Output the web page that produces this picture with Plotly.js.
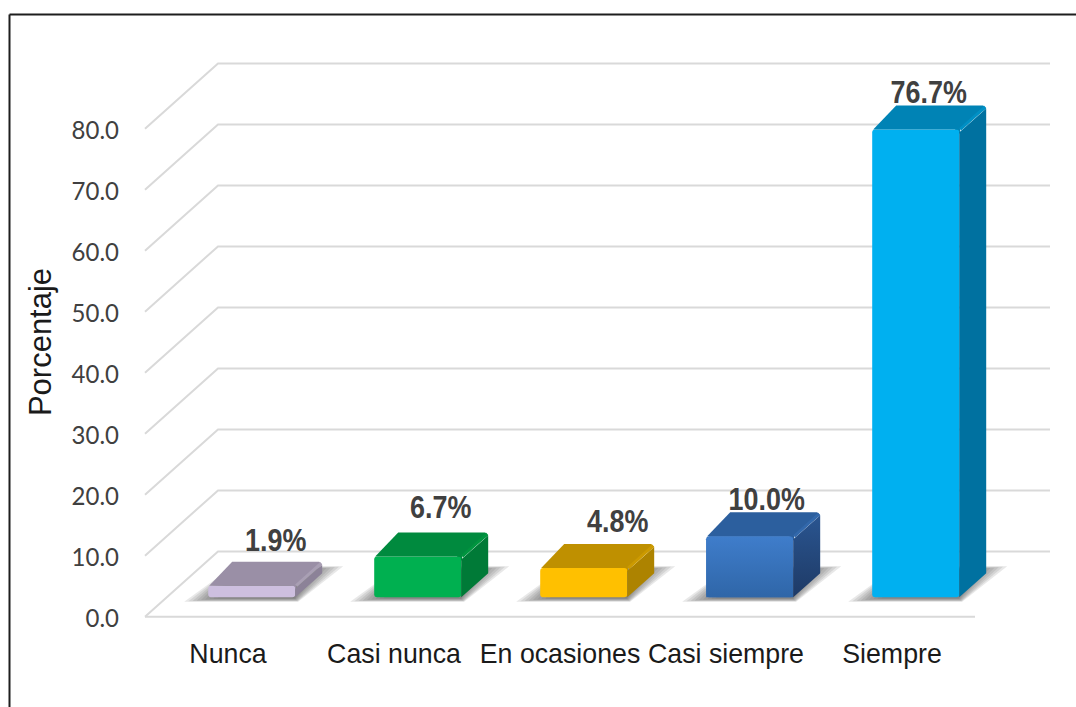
<!DOCTYPE html>
<html>
<head>
<meta charset="utf-8">
<script src="https://cdn.plot.ly/plotly-3.0.1.min.js"></script>
<style>html,body{margin:0;padding:0;background:#fff}</style>
</head>
<body>
<div id="chart" style="width:1076px;height:707px"></div>
<script>
const categories = ["Nunca", "Casi nunca", "En ocasiones", "Casi siempre", "Siempre"];
const values = [1.9, 6.7, 4.8, 10.0, 76.7];
const valueLabels = ["1.9%", "6.7%", "4.8%", "10.0%", "76.7%"];
const yTicks = [0, 10, 20, 30, 40, 50, 60, 70, 80];

const frontColors = ["#CDBFDF", "#00B050", "#FFC000", "#3A76C0", "#00B0F0"];
const topColors = ["#9A8FA6", "#008A3E", "#BF9000", "#2C5F9E", "#0083B5"];
const edgeColors = ["#A99FB4", "#00953F", "#CC9A00", "#3268AB", "#0090C5"];
const sideColors = ["#8C8298", "#007A37", "#AD8300", "#244A80", "#0071A0"];
// bars whose front and side faces fade from bottom to top
const fadeFront = {3: ["#2F66A8", "#3F7DCB"]};
const fadeSide = {3: ["#1E3A66", "#2A5590"]};

// scale of the axes, pixels per data unit
const W = 1076, H = 707;
const L = 144, R = 1052, T = 62, B = 622;
const pxX = 166, pxY = 6.1;
const zeroPx = 616.7, firstCatPx = 228;
const xRange = [(L - firstCatPx) / pxX, (R - firstCatPx) / pxX];
const yRange = [(zeroPx - B) / pxY, (zeroPx - T) / pxY];

// oblique projection, in pixels
const wallDX = 74, wallDY = 65.3;
const liftDX = 23.7, liftDY = 19.4;
const barDX = 27, barDY = 24, barW = 87, chamfer = 3;
const labelShiftX = [24, 23, 34, 17, 13];
const labelShiftY = [43, 46, 44, 34, 34];

const dx = p => p / pxX;
const dy = p => p / pxY;
const xEnd = xRange[1] - dx(2);
const xFrontEnd = 4.5;

const shapes = [];
const lineStyle = {color: "#D9D9D9", width: 2};
yTicks.forEach(v => {
  shapes.push({type: "path", layer: "below", xref: "x", yref: "y", line: lineStyle,
    path: `M ${xRange[0] + dx(1)},${v} L ${xRange[0] + dx(wallDX)},${v + dy(wallDY)} L ${xEnd},${v + dy(wallDY)}`});
});
shapes.push({type: "path", layer: "below", xref: "x", yref: "y", line: lineStyle,
  path: `M ${xRange[0] + dx(1)},0 L ${xFrontEnd},0`});

// floor shadows, soft edge built from stacked layers
const shadowLayers = 9;
values.forEach((v, i) => {
  const x0 = i + dx(liftDX) - dx(barW / 2), x1 = x0 + dx(barW), yb = dy(liftDY);
  for (let k = 0; k < shadowLayers; k++) {
    const s = k * 4.2, e = k * 0.45;
    shapes.push({type: "path", layer: "below", xref: "x", yref: "y",
      fillcolor: "rgba(90,90,90,0.14)", line: {width: 0},
      path: `M ${x0 + dx(-24 + s)},${yb - dy(4.5 - e)} L ${x1 + dx(3 - e)},${yb - dy(4.5 - e)} ` +
            `L ${x1 + dx(48 - s)},${yb + dy(31 - e)} L ${x0 + dx(25)},${yb + dy(31 - e)} Z`});
  }
  // fills the rounded front corner next to the side face
  const yt = yb + v;
  shapes.push({type: "rect", layer: "below", xref: "x", yref: "y", x0: x1 - dx(4), x1: x1 + dx(1),
    y0: yt - dy(4), y1: yt + dy(1), fillcolor: topColors[i], line: {width: 0}});
});

// picture frame (top and left edges)
const px2x = p => (p - L) / (R - L), px2y = p => 1 - (p - T) / (B - T);
shapes.push({type: "line", xref: "paper", yref: "paper", x0: px2x(9.5), x1: px2x(W), y0: px2y(14.5), y1: px2y(14.5), line: {color: "#1E1E1E", width: 2}});
shapes.push({type: "line", xref: "paper", yref: "paper", x0: px2x(9.5), x1: px2x(9.5), y0: px2y(14.5), y1: px2y(H), line: {color: "#1E1E1E", width: 2}});

const fade = c => ({type: "vertical", colorscale: [[0, c[0]], [1, c[1]]]});
const traces = [];
// front faces
traces.push({
  type: "bar",
  x: categories.map((c, i) => i + dx(liftDX)),
  y: values,
  base: values.map(() => dy(liftDY)),
  width: dx(barW),
  marker: {color: frontColors, line: {width: 0}, cornerradius: 3},
  hoverinfo: "skip", showlegend: false
});
// top and side faces
values.forEach((v, i) => {
  const x0 = i + dx(liftDX) - dx(barW / 2), x1 = x0 + dx(barW);
  const yb = dy(liftDY), yt = yb + v;
  const c = chamfer;
  if (fadeFront[i]) {
    traces.push({type: "scatter", mode: "lines", fill: "toself", fillgradient: fade(fadeFront[i]),
      line: {width: 0}, hoverinfo: "skip", showlegend: false,
      x: [x0, x0, x0 + dx(c), x1 - dx(c), x1, x1, x0],
      y: [yb, yt - dy(c), yt, yt, yt - dy(c), yb, yb]});
  }
  traces.push({type: "scatter", mode: "lines", fill: "toself", fillcolor: topColors[i],
    line: {width: 0, color: topColors[i]}, hoverinfo: "skip", showlegend: false,
    x: [x0 + dx(1), x0 + dx(barDX - c), x0 + dx(barDX), x1 + dx(barDX - c), x1 + dx(barDX), x1, x0 + dx(1)],
    y: [yt, yt + dy(barDY), yt + dy(barDY), yt + dy(barDY), yt + dy(barDY - c), yt, yt]});
  const sideStyle = fadeSide[i] ? {fillgradient: fade(fadeSide[i])} : {fillcolor: sideColors[i]};
  traces.push(Object.assign({type: "scatter", mode: "lines", fill: "toself",
    line: {width: 0, color: sideColors[i]}, hoverinfo: "skip", showlegend: false,
    x: [x1, x1 + dx(barDX), x1 + dx(barDX), x1, x1],
    y: [yt - dy(c), yt + dy(barDY - c), yb + dy(barDY), yb, yt - dy(c)]}, sideStyle));
  traces.push({type: "scatter", mode: "lines", line: {width: 3, color: edgeColors[i]},
    hoverinfo: "skip", showlegend: false,
    x: [x1 + dx(1), x1 + dx(barDX - 1)],
    y: [yt, yt + dy(barDY - 1.5)]});
});
// value labels
traces.push({
  type: "scatter", mode: "text", cliponaxis: false,
  x: values.map((v, i) => i + dx(liftDX) + dx(labelShiftX[i])),
  y: values.map((v, i) => dy(liftDY) + v + dy(labelShiftY[i])),
  text: valueLabels, textposition: "middle center",
  textfont: {family: "'Liberation Sans', sans-serif", size: 32, color: "#404040", weight: 700},
  hoverinfo: "skip", showlegend: false
});

const layout = {
  width: W, height: H, autosize: false,
  paper_bgcolor: "#fff", plot_bgcolor: "#fff",
  margin: {l: L, r: W - R, t: T, b: H - B, pad: 0},
  showlegend: false, barmode: "overlay",
  shapes: shapes,
  xaxis: {
    type: "linear", range: xRange, tickmode: "array",
    tickvals: categories.map((c, i) => i), ticktext: categories,
    showgrid: false, zeroline: false, showline: false, ticks: "",
    ticklabelstandoff: 12, automargin: false, tickangle: 0,
    tickfont: {family: "'Liberation Sans', Arial, sans-serif", size: 28, color: "#1A1A1A"}
  },
  yaxis: {
    type: "linear", range: yRange, tickmode: "array", tickvals: yTicks, tickformat: ".1f",
    showgrid: false, zeroline: false, showline: false, ticks: "",
    ticklabelstandoff: 24, ticklabelshift: 2, automargin: false,
    tickfont: {family: "Lato, sans-serif", size: 25, color: "#404040"},
    title: {text: "Porcentaje", standoff: 8,
      font: {family: "'Liberation Sans', Arial, sans-serif", size: 31, color: "#1A1A1A"}}
  }
};

// the reference type is set narrow: squeeze glyphs horizontally, keeping real text
function squeeze(selector, factor) {
  document.querySelectorAll(selector).forEach(t => {
    t.setAttribute("textLength", (t.getComputedTextLength() * factor).toFixed(1));
    t.setAttribute("lengthAdjust", "spacingAndGlyphs");
  });
}
Plotly.newPlot("chart", traces, layout, {displayModeBar: false, staticPlot: true}).then(() => {
  squeeze(".textpoint text", 0.84);
  squeeze(".xtick text", 0.955);
  squeeze(".ytick text", 0.96);
});
</script>
</body>
</html>
